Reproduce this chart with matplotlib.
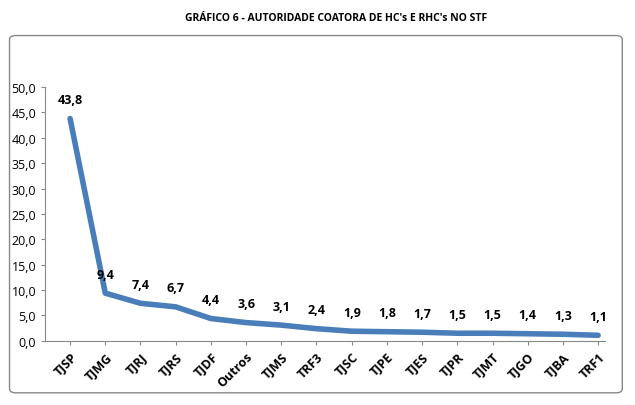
import matplotlib.pyplot as plt
from matplotlib.patches import FancyBboxPatch

courts = ['TJSP', 'TJMG', 'TJRJ', 'TJRS', 'TJDF', 'Outros', 'TJMS', 'TRF3', 'TJSC',
          'TJPE', 'TJES', 'TJPR', 'TJMT', 'TJGO', 'TJBA', 'TRF1']
shares = [43.8, 9.4, 7.4, 6.7, 4.4, 3.6, 3.1, 2.4, 1.9, 1.8, 1.7, 1.5, 1.5, 1.4, 1.3, 1.1]

plt.rcParams['font.family'] = ['Open Sans', 'DejaVu Sans']

fig = plt.figure(figsize=(6.35, 4.06), dpi=100)
# outer border of the chart area
box = FancyBboxPatch((0.015, 0.03), 0.965, 0.88, boxstyle='round,pad=0,rounding_size=0.01',
                     transform=fig.transFigure, fill=False, edgecolor='#888888', linewidth=1)
fig.patches.append(box)
fig.text(0.53, 0.955, "GRÁFICO 6 - AUTORIDADE COATORA DE HC's E RHC's NO STF",
         ha='center', va='center', fontsize=7.5, fontweight='bold')

ax = fig.add_axes([0.071, 0.158, 0.882, 0.625])
x = range(len(courts))
ax.plot(x, shares, color='#4a7ebb', linewidth=4, solid_capstyle='round')
for i, v in enumerate(shares):
    ax.annotate(f'{v:.1f}'.replace('.', ','), (i, v), xytext=(0, 9), textcoords='offset points',
                ha='center', va='bottom', fontsize=9, fontweight='bold')

ax.set_ylim(0, 50)
ax.set_yticks(range(0, 51, 5))
ax.set_yticklabels([f'{t:.1f}'.replace('.', ',') for t in range(0, 51, 5)], fontsize=9)
ax.set_xlim(-0.71, len(courts) - 0.8)
ax.set_xticks(list(x))
ax.set_xticklabels(courts, rotation=45, ha='right', rotation_mode='anchor',
                   fontsize=9, fontweight='bold')
for s in ['top', 'right']:
    ax.spines[s].set_visible(False)
ax.spines['left'].set_color('#888888')
ax.spines['bottom'].set_color('#888888')
ax.tick_params(length=3, color='#888888')

fig.savefig('out.png', dpi=100)
